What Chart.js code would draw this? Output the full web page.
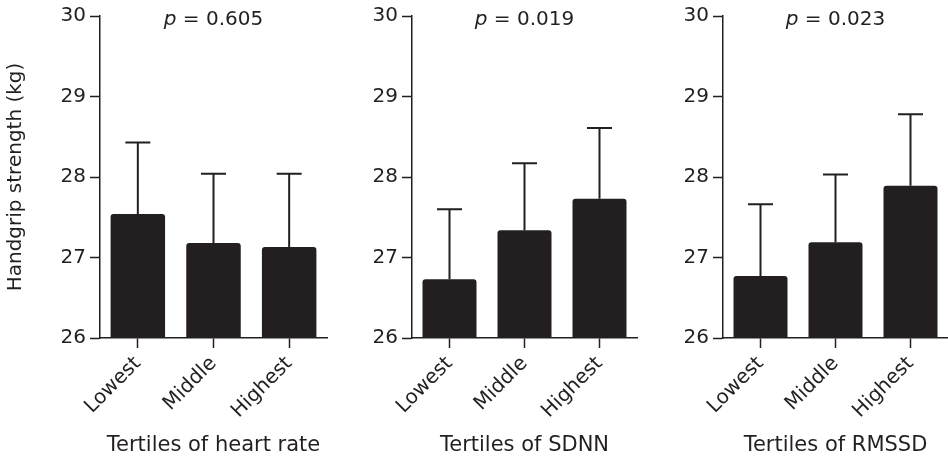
<!DOCTYPE html>
<html>
<head>
<meta charset="utf-8">
<script src="https://cdn.jsdelivr.net/npm/chart.js@4/dist/chart.umd.min.js"></script>
<style>
  body { margin: 0; background: #fff; }
  .panel { position: absolute; top: 0; height: 459px; }
</style>
</head>
<body>
<div class="panel" style="left:0;width:330px"><canvas id="hr"></canvas></div>
<div class="panel" style="left:330px;width:310px"><canvas id="sdnn"></canvas></div>
<div class="panel" style="left:640px;width:308px"><canvas id="rmssd"></canvas></div>
<script>
// Data
const categories = ['Lowest', 'Middle', 'Highest'];
const hrMean = [27.54, 27.18, 27.13];
const hrUpper = [28.43, 28.04, 28.04];
const sdnnMean = [26.73, 27.34, 27.73];
const sdnnUpper = [27.60, 28.17, 28.61];
const rmssdMean = [26.77, 27.19, 27.89];
const rmssdUpper = [27.66, 28.03, 28.78];
const pValues = ['0.605', '0.019', '0.023'];
const xTitles = ['Tertiles of heart rate', 'Tertiles of SDNN', 'Tertiles of RMSSD'];
const yTitle = 'Handgrip strength (kg)';
const yMin = 26, yMax = 30, yStep = 1;

const ink = '#231f20';
const fontFamily = '"DejaVu Sans", Verdana, sans-serif';
Chart.defaults.font.family = fontFamily;
Chart.defaults.color = ink;

// draws the upper error bar of each bar
const errorBars = {
    id: 'errorBars',
    afterDatasetsDraw(chart, args, opts) {
        const ctx = chart.ctx;
        const y = chart.scales.y;
        const meta = chart.getDatasetMeta(0);
        ctx.save();
        ctx.strokeStyle = ink;
        ctx.lineWidth = 2;
        meta.data.forEach((bar, i) => {
            const top = y.getPixelForValue(opts.upper[i]);
            const base = y.getPixelForValue(opts.mean[i]);
            ctx.beginPath();
            ctx.moveTo(bar.x, base);
            ctx.lineTo(bar.x, top);
            ctx.moveTo(bar.x - 12.5, top);
            ctx.lineTo(bar.x + 12.5, top);
            ctx.stroke();
        });
        ctx.restore();
    }
};

// "p = ..." label with italic p
const pLabel = {
    id: 'pLabel',
    afterDraw(chart, args, opts) {
        const ctx = chart.ctx;
        const area = chart.chartArea;
        const rest = ' = ' + opts.text;
        ctx.save();
        ctx.fillStyle = ink;
        ctx.textBaseline = 'alphabetic';
        ctx.font = 'italic 20px ' + fontFamily;
        const wp = ctx.measureText('p').width;
        ctx.font = '20px ' + fontFamily;
        const wr = ctx.measureText(rest).width;
        const x0 = (area.left + area.right) / 2 - (wp + wr) / 2;
        ctx.font = 'italic 20px ' + fontFamily;
        ctx.fillText('p', x0, 25);
        ctx.font = '20px ' + fontFamily;
        ctx.fillText(rest, x0 + wp, 25);
        ctx.restore();
    }
};

function makePanel(id, mean, upper, p, xTitle, yWidth, padRight, showYTitle) {
    new Chart(document.getElementById(id), {
        type: 'bar',
        data: {
            labels: categories,
            datasets: [{
                data: mean,
                backgroundColor: ink,
                borderRadius: 3,
                categoryPercentage: 1,
                barPercentage: 0.72
            }]
        },
        options: {
            responsive: true,
            maintainAspectRatio: false,
            animation: false,
            layout: { padding: { top: 15, right: padRight, bottom: 0, left: 0 } },
            plugins: {
                legend: { display: false },
                tooltip: { enabled: false },
                errorBars: { mean: mean, upper: upper },
                pLabel: { text: p }
            },
            scales: {
                x: {
                    grid: { display: true, drawOnChartArea: false, offset: false, tickLength: 10, tickWidth: 1.5, tickColor: ink },
                    border: { display: true, color: ink, width: 1.5 },
                    ticks: { font: { size: 20 }, minRotation: 45, maxRotation: 45, padding: 4, color: ink },
                    title: { display: true, text: xTitle, font: { size: 21 }, color: ink, padding: { top: 4, bottom: 1 } },
                    afterFit(scale) { scale.height = 121; }
                },
                y: {
                    min: yMin,
                    max: yMax,
                    grid: { display: true, drawOnChartArea: false, tickLength: 10, tickWidth: 1.5, tickColor: ink },
                    border: { display: true, color: ink, width: 1.5 },
                    ticks: { stepSize: yStep, font: { size: 20 }, padding: 4, color: ink },
                    title: { display: showYTitle, text: yTitle, font: { size: 20 }, color: ink },
                    afterFit(scale) { scale.width = yWidth; }
                }
            }
        },
        plugins: [errorBars, pLabel]
    });
}

makePanel('hr', hrMean, hrUpper, pValues[0], xTitles[0], 100, 3, true);
makePanel('sdnn', sdnnMean, sdnnUpper, pValues[1], xTitles[1], 82, 3, false);
makePanel('rmssd', rmssdMean, rmssdUpper, pValues[2], xTitles[2], 83, 0, false);
</script>
</body>
</html>
